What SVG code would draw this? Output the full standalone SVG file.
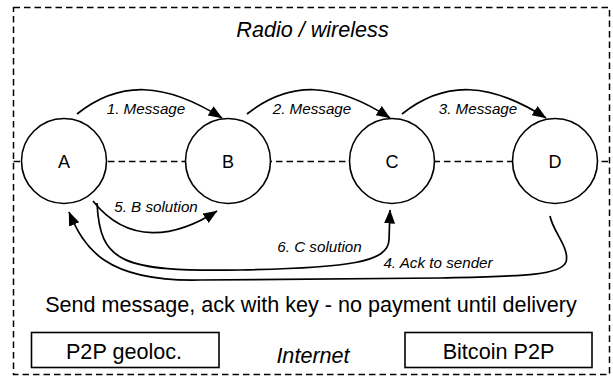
<svg xmlns="http://www.w3.org/2000/svg" width="613" height="377" viewBox="0 0 613 377">
<style>
  text { font-family: "Liberation Sans", Arial, Helvetica, sans-serif; fill: #000; }
  .big { font-size: 21.6px; }
  .lbl { font-size: 15.2px; font-style: italic; }
  .it { font-style: italic; }
  .node { font-size: 18px; }
  .dash { fill: none; stroke: #000; stroke-width: 1.5; stroke-dasharray: 6.5 4; }
  .circ { fill: #fff; stroke: #000; stroke-width: 1.6; }
  .box { fill: #fff; stroke: #000; stroke-width: 1.6; }
  .edge { fill: none; stroke: #000; stroke-width: 1.7; marker-end: url(#arr); }
</style>
<defs>
  <marker id="arr" markerUnits="userSpaceOnUse" markerWidth="16" markerHeight="14" viewBox="0 0 16 14" refX="13.5" refY="6" orient="auto">
    <path d="M0,0.5 L14,6 L0,11.5 Z" fill="#000"/>
  </marker>
</defs>
<rect width="613" height="377" fill="#fff"/>
<g id="frame">
  <rect class="dash" x="13.5" y="7.5" width="596" height="367"/>
  <text class="big it" x="312.5" y="37" text-anchor="middle">Radio / wireless</text>
  <text class="big" x="311" y="311.5" text-anchor="middle">Send message, ack with key - no payment until delivery</text>
  <text class="big it" x="313" y="363" text-anchor="middle">Internet</text>
</g>
<g id="links">
  <line class="dash" x1="13.5" y1="161.5" x2="609.5" y2="161.5"/>
</g>
<g id="node-A">
  <circle class="circ" cx="64" cy="161" r="42.5"/>
  <text class="node" x="64" y="168" text-anchor="middle">A</text>
</g>
<g id="node-B">
  <circle class="circ" cx="228" cy="161" r="42.5"/>
  <text class="node" x="228" y="168" text-anchor="middle">B</text>
</g>
<g id="node-C">
  <circle class="circ" cx="392" cy="161" r="42.5"/>
  <text class="node" x="392" y="168" text-anchor="middle">C</text>
</g>
<g id="node-D">
  <circle class="circ" cx="555" cy="161" r="42.5"/>
  <text class="node" x="555" y="168" text-anchor="middle">D</text>
</g>
<g id="box-geoloc">
  <rect class="box" x="31.5" y="332.5" width="187.5" height="35"/>
  <text class="big" x="124" y="359" text-anchor="middle">P2P geoloc.</text>
</g>
<g id="box-bitcoin">
  <rect class="box" x="405" y="332.5" width="187" height="35"/>
  <text class="big" x="498.5" y="359" text-anchor="middle">Bitcoin P2P</text>
</g>
<g id="connectors">
  <path class="edge" d="M77,114 C120,80 165,82 222,118"/>
  <path class="edge" d="M247,114 C290,80 335,82 390,118"/>
  <path class="edge" d="M402,114 C445,80 490,82 546,118"/>
  <path class="edge" d="M93,201 C128,245 175,238 217,211"/>
  <path class="edge" d="M97,203 C100,262 120,272 240,270 C350,268 388,262 389,240 L390,210"/>
  <path class="edge" d="M550,216 C553,232 570,248 566,262 C560,276 520,276 440,278 L200,280 C105,282 84,248 69,212"/>
  <text class="lbl" x="146" y="114" text-anchor="middle">1. Message</text>
  <text class="lbl" x="312" y="114" text-anchor="middle">2. Message</text>
  <text class="lbl" x="478" y="114" text-anchor="middle">3. Message</text>
  <text class="lbl" x="156" y="212" text-anchor="middle">5. B solution</text>
  <text class="lbl" x="319.5" y="252" text-anchor="middle">6. C solution</text>
  <text class="lbl" x="438" y="268" text-anchor="middle">4. Ack to sender</text>
</g>
</svg>
